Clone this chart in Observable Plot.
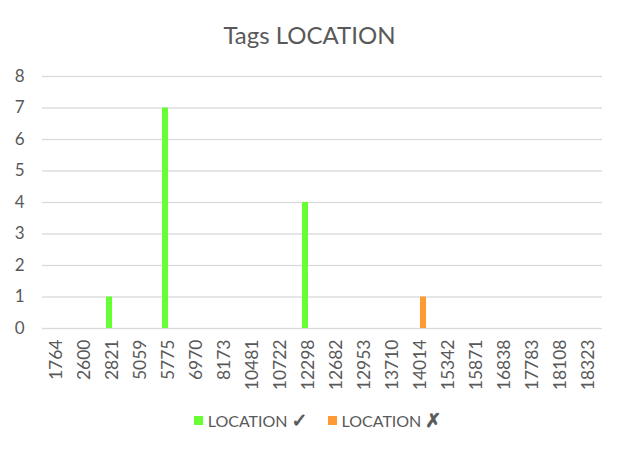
<!DOCTYPE html>
<html>
<head>
<meta charset="utf-8">
<script src="https://cdn.jsdelivr.net/npm/d3@7"></script>
<script src="https://cdn.jsdelivr.net/npm/@observablehq/plot@0.6"></script>
<style>
  html, body { margin: 0; padding: 0; background: #fff; }
  #wrap { width: 627px; height: 450px; position: relative; font-family: Lato, "Open Sans", sans-serif; color: #595959; }
  #title { height: 60px; line-height: 70px; text-align: center; font-size: 24px; padding-right: 8px; box-sizing: border-box; }
  #legend { display: flex; justify-content: center; gap: 20px; font-size: 16px; margin-top: 9px; padding-left: 8px; }
  .item { display: flex; align-items: center; gap: 5px; }
  .sw { width: 9px; height: 9px; display: inline-block; }
  .sym { font-family: "DejaVu Sans", sans-serif; font-size: 19px; margin-left: 4px; -webkit-text-stroke: 0.8px #595959; }
  svg [aria-label^="fx-axis"] text { font-size: 17.5px; }
</style>
</head>
<body>
<div id="wrap">
  <div id="title">Tags LOCATION</div>
  <div id="chart"></div>
  <div id="legend"></div>
</div>
<script>
const categories = ["1764","2600","2821","5059","5775","6970","8173","10481","10722","12298","12682","12953","13710","14014","15342","15871","16838","17783","18108","18323"];
const seriesNames = ["LOCATION ✓", "LOCATION ✗"];
const seriesColors = ["#66FF33", "#FF9933"];
const locationOk  = [0,0,1,0,7,0,0,0,0,4,0,0,0,0,0,0,0,0,0,0];
const locationBad = [0,0,0,0,0,0,0,0,0,0,0,0,0,1,0,0,0,0,0,0];
const yTicks = [0,1,2,3,4,5,6,7,8];

const data = [];
categories.forEach((c, i) => {
  data.push({category: c, series: seriesNames[0], value: locationOk[i]});
  data.push({category: c, series: seriesNames[1], value: locationBad[i]});
});

const plot = Plot.plot({
  width: 627,
  height: 340,
  marginTop: 16,
  marginBottom: 72,
  marginLeft: 40,
  marginRight: 23,
  style: {fontFamily: "Lato, 'Open Sans', sans-serif", fontSize: "17px", color: "#595959", background: "white"},
  facet: {data, x: "category"},
  fx: {domain: categories, padding: 0, tickRotate: -90, tickSize: 0, tickPadding: 11, label: null},
  x: {domain: seriesNames, axis: null, paddingInner: 0.05, paddingOuter: 1.2},
  y: {domain: [0, 8], ticks: yTicks, tickSize: 0, tickPadding: 18, label: null},
  color: {domain: seriesNames, range: seriesColors},
  marks: [
    Plot.ruleY(yTicks, {stroke: "#d9d9d9", strokeWidth: 1.3}),
    Plot.barY(data, {x: "series", y: "value", fill: "series"})
  ]
});
document.getElementById("chart").appendChild(plot);

const legend = document.getElementById("legend");
seriesNames.forEach((s, i) => {
  const item = document.createElement("div");
  item.className = "item";
  const sw = document.createElement("span");
  sw.className = "sw";
  sw.style.background = seriesColors[i];
  const parts = s.split(" ");
  const t = document.createElement("span");
  t.textContent = parts[0];
  const sym = document.createElement("span");
  sym.className = "sym";
  sym.textContent = parts.slice(1).join(" ");
  t.appendChild(sym);
  item.appendChild(sw);
  item.appendChild(t);
  legend.appendChild(item);
});
</script>
</body>
</html>
